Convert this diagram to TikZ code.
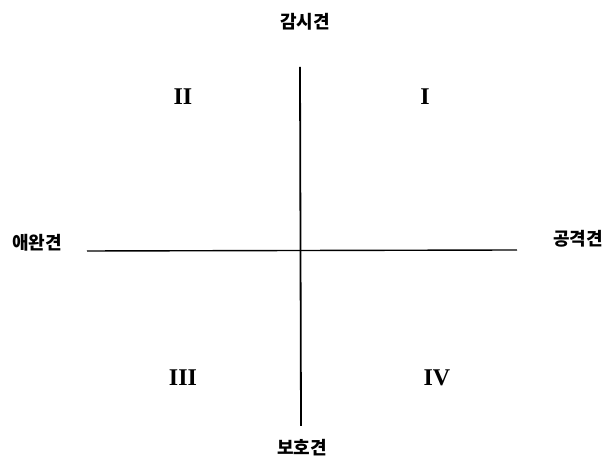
\documentclass[tikz,border=0pt]{standalone}
\usepackage{fontspec}
\setmainfont{Liberation Serif}
\newfontfamily\kor{Noto Sans CJK KR}
\tikzset{
  dogtype/.style={font=\kor\bfseries\fontsize{9pt}{10pt}\selectfont, inner sep=0pt},
  quadnum/.style={font=\bfseries\fontsize{12pt}{14pt}\selectfont, inner sep=0pt}
}
\begin{document}
\begin{tikzpicture}[x=0.5pt,y=-0.5pt]
\useasboundingbox (0,0) rectangle (607,469);
% axes ends
\coordinate (top) at (300,67);
\coordinate (bottom) at (301,426);
\coordinate (left) at (87,251);
\coordinate (right) at (517,250);
\draw[line width=0.9pt] (top) -- (bottom);
\draw[line width=0.7pt] (left) -- (right);

% axis labels
\node[dogtype] (watch) at (305,22) {감시견};
\node[dogtype] (guard) at (302,448) {보호견};
\node[dogtype] (pet) at (37,243) {애완견};
\node[dogtype] (attack) at (578,239) {공격견};

% quadrants
\node[quadnum] (q1) at (425,97) {I};
\node[quadnum] (q2) at (183,97) {II};
\node[quadnum] (q3) at (183,378) {III};
\node[quadnum] (q4) at (437,378) {IV};
\end{tikzpicture}
\end{document}
